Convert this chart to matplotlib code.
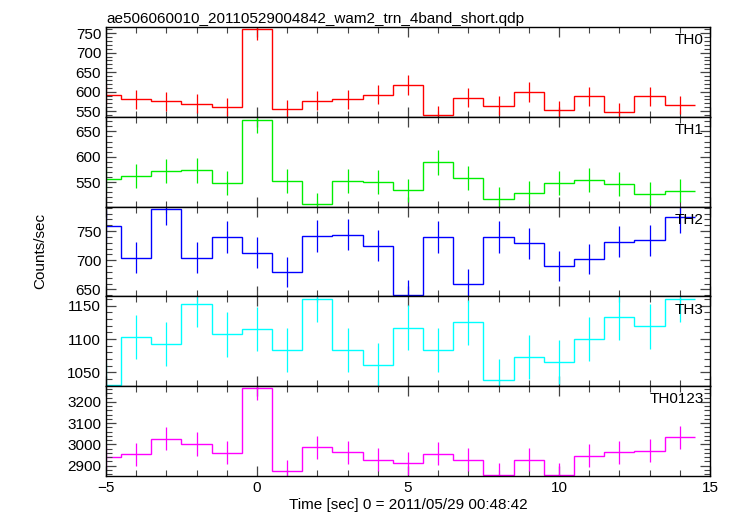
import matplotlib
matplotlib.use('Agg')
import matplotlib.pyplot as plt
from matplotlib.ticker import MultipleLocator
import numpy as np

plt.rcParams['font.family'] = ['Liberation Sans', 'DejaVu Sans']

# bin centres (1 s bins); the first one is cut by the plot edge at -5
time = [-5, -4, -3, -2, -1, 0, 1, 2, 3, 4, 5, 6, 7, 8, 9, 10, 11, 12, 13, 14]

th0 = [592, 581, 575, 569, 561, 760, 556, 577, 581, 592,
       617, 541, 584, 564, 599, 553, 588, 548, 588, 566]
th0_err = [24.3, 24.1, 24.0, 23.9, 23.7, 27.6, 23.6, 24.0, 24.1, 24.3,
           24.8, 23.3, 24.2, 23.7, 24.5, 23.5, 24.2, 23.4, 24.2, 23.8]

th1 = [557, 563, 572, 573, 549, 673, 553, 506, 553, 551,
       534, 589, 558, 517, 529, 549, 555, 547, 527, 533]
th1_err = [23.6, 23.7, 23.9, 23.9, 23.4, 25.9, 23.5, 22.5, 23.5, 23.5,
           23.1, 24.3, 23.6, 22.7, 23.0, 23.4, 23.6, 23.4, 23.0, 23.1]

th2 = [758, 704, 788, 704, 740, 713, 680, 742, 744, 725,
       641, 740, 659, 740, 729, 690, 702, 732, 734, 774]
th2_err = [27.5, 26.5, 28.1, 26.5, 27.2, 26.7, 26.1, 27.2, 27.3, 26.9,
           25.3, 27.2, 25.7, 27.2, 27.0, 26.3, 26.5, 27.1, 27.1, 27.8]

th3 = [1032, 1103, 1093, 1152, 1107, 1115, 1083, 1160, 1083, 1061,
       1117, 1083, 1125, 1038, 1073, 1066, 1100, 1133, 1119, 1160]
th3_err = [32.1, 33.2, 33.1, 33.9, 33.3, 33.4, 32.9, 34.1, 32.9, 32.6,
           33.4, 32.9, 33.5, 32.2, 32.8, 32.6, 33.2, 33.7, 33.5, 34.1]

th0123 = [2940, 2954, 3027, 3002, 2960, 3266, 2875, 2987, 2963, 2928,
          2911, 2956, 2927, 2858, 2928, 2858, 2946, 2963, 2971, 3033]
th0123_err = [54.2, 54.4, 55.0, 54.8, 54.4, 57.1, 53.6, 54.7, 54.4, 54.1,
              54.0, 54.4, 54.1, 53.5, 54.1, 53.5, 54.3, 54.4, 54.5, 55.1]

bands = ['TH0', 'TH1', 'TH2', 'TH3', 'TH0123']
rates = [th0, th1, th2, th3, th0123]
errors = [th0_err, th1_err, th2_err, th3_err, th0123_err]
colors = ['#ff0000', '#00ee00', '#0000ff', '#00ffff', '#ff00ff']
ylims = [(536, 766), (502, 679), (638, 792), (1029.5, 1164), (2851, 3274)]
yticks = [[550, 600, 650, 700, 750], [550, 600, 650], [650, 700, 750],
          [1050, 1100, 1150], [2900, 3000, 3100, 3200]]
yminor = [10, 10, 10, 10, 20]

fig = plt.figure(figsize=(7.33, 5.16), dpi=100)
left, right, top, bottom = 0.1446, 0.9686, 0.948, 0.0775
h = (top - bottom) / 5

t = np.array(time, dtype=float)
for i in range(5):
    ax = fig.add_axes([left, top - (i + 1) * h, right - left, h])
    y = np.array(rates[i])
    edges = np.append(t - 0.5, t[-1] + 0.5)
    ax.stairs(y, edges, baseline=None, color=colors[i], lw=1.0)
    ax.errorbar(t, y, yerr=errors[i], fmt='none', ecolor=colors[i], elinewidth=0.9)
    ax.set_xlim(-5, 15)
    ax.set_ylim(*ylims[i])
    ax.set_yticks(yticks[i])
    ax.yaxis.set_minor_locator(MultipleLocator(yminor[i]))
    ax.xaxis.set_major_locator(MultipleLocator(5))
    ax.xaxis.set_minor_locator(MultipleLocator(1))
    ax.tick_params(which='both', direction='in', top=True, right=True,
                   labelsize=11, color='#444444')
    ax.tick_params(which='major', length=7, width=0.9)
    ax.tick_params(which='minor', length=4, width=0.8)
    for s in ax.spines.values():
        s.set_linewidth(1.0)
    if i < 4:
        ax.tick_params(labelbottom=False)
    else:
        ax.set_xlabel('Time [sec] 0 = 2011/05/29 00:48:42', fontsize=11, labelpad=2)
    ax.text(0.99, 0.93, bands[i], transform=ax.transAxes, ha='right', va='top',
            fontsize=11)
    if i == 0:
        ax.set_title('ae506060010_20110529004842_wam2_trn_4band_short.qdp',
                     loc='left', fontsize=11, pad=3)

fig.text(0.055, (top + bottom) / 2, 'Counts/sec', rotation=90, ha='center',
         va='center', fontsize=11)

fig.savefig('out.png', dpi=100)
